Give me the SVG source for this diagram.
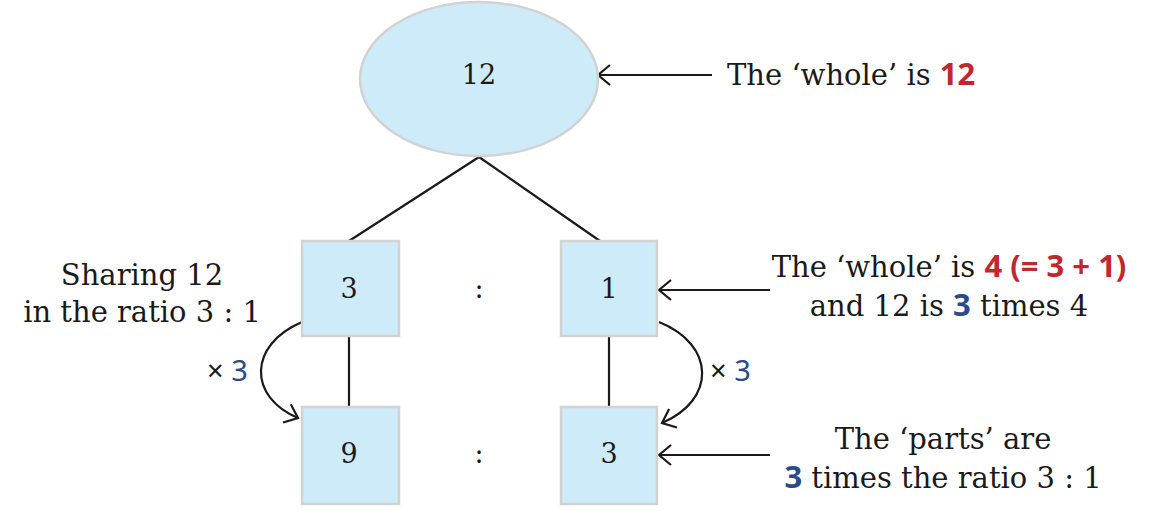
<svg xmlns="http://www.w3.org/2000/svg" width="1165" height="511" viewBox="0 0 1165 511">
<style>
.node{fill:#cdebf8;stroke:#d2d2d2;stroke-width:2.5}
.num{font-family:"DejaVu Serif","Liberation Serif",serif;font-size:27px;fill:#1a1a1a;text-anchor:middle}
.lbl{font-family:"DejaVu Serif","Liberation Serif",serif;font-size:29px;fill:#1a1a1a}
.sans{font-family:"Noto Sans","DejaVu Sans",sans-serif}
.b{font-family:"Noto Sans","DejaVu Sans",sans-serif;font-weight:bold;font-size:31px}
.red{fill:#c1272d}
.blue{fill:#2a4a8c}
.ln{stroke:#1a1a1a;stroke-width:2.2;fill:none}
</style>
<defs>
<marker id="ahe" markerUnits="userSpaceOnUse" viewBox="0 0 16 22" refX="14" refY="11" markerWidth="16" markerHeight="22" orient="auto">
<path d="M2,1 L14,11 L2,21" fill="none" stroke="#1a1a1a" stroke-width="2.2"/>
</marker>
</defs>
<rect width="1165" height="511" fill="#ffffff"/>
<g id="connectors">
<line class="ln" x1="479" y1="157" x2="349" y2="241"/>
<line class="ln" x1="479" y1="157" x2="600" y2="241"/>
<line class="ln" x1="349" y1="337" x2="349" y2="406"/>
<line class="ln" x1="609" y1="337" x2="609" y2="406"/>
<line class="ln" x1="712" y1="75" x2="598" y2="75" marker-end="url(#ahe)"/>
<line class="ln" x1="770" y1="290" x2="659" y2="290" marker-end="url(#ahe)"/>
<line class="ln" x1="770" y1="455" x2="659" y2="455" marker-end="url(#ahe)"/>
<path class="ln" d="M302,322 C248,345 248,397 298,418" marker-end="url(#ahe)"/>
<path class="ln" d="M659,322 C716,345 716,400 662,423" marker-end="url(#ahe)"/>
</g>
<g id="node-whole">
<ellipse class="node" cx="479" cy="79" rx="119" ry="77"/>
<text class="num" x="479" y="84">12</text>
</g>
<g id="node-r3">
<rect class="node" x="302" y="241" width="97" height="95"/>
<text class="num" x="349" y="298">3</text>
</g>
<g id="node-r1">
<rect class="node" x="561" y="241" width="96" height="95"/>
<text class="num" x="609" y="298">1</text>
</g>
<g id="node-p9">
<rect class="node" x="302" y="407" width="97" height="97"/>
<text class="num" x="349" y="463">9</text>
</g>
<g id="node-p3">
<rect class="node" x="561" y="407" width="96" height="97"/>
<text class="num" x="609" y="463">3</text>
</g>
<g id="colons">
<text class="num" x="479" y="298" font-size="29">:</text>
<text class="num" x="479" y="463" font-size="29">:</text>
</g>
<g id="labels">
<text class="lbl" x="727" y="85">The ‘whole’ is <tspan class="b red">12</tspan></text>
<text class="lbl" x="142" y="285" text-anchor="middle">Sharing 12</text>
<text class="lbl" x="142" y="322" text-anchor="middle">in the ratio 3 : 1</text>
<text class="lbl sans" x="207" y="381" font-size="27">× <tspan class="blue">3</tspan></text>
<text class="lbl sans" x="710" y="381" font-size="27">× <tspan class="blue">3</tspan></text>
<text class="lbl" x="949" y="277" text-anchor="middle">The ‘whole’ is <tspan class="b red">4 (= 3 + 1)</tspan></text>
<text class="lbl" x="949" y="316" text-anchor="middle">and 12 is <tspan class="b blue">3</tspan> times 4</text>
<text class="lbl" x="943" y="449" text-anchor="middle">The ‘parts’ are</text>
<text class="lbl" x="943" y="488" text-anchor="middle"><tspan class="b blue">3</tspan> times the ratio 3 : 1</text>
</g>
</svg>
